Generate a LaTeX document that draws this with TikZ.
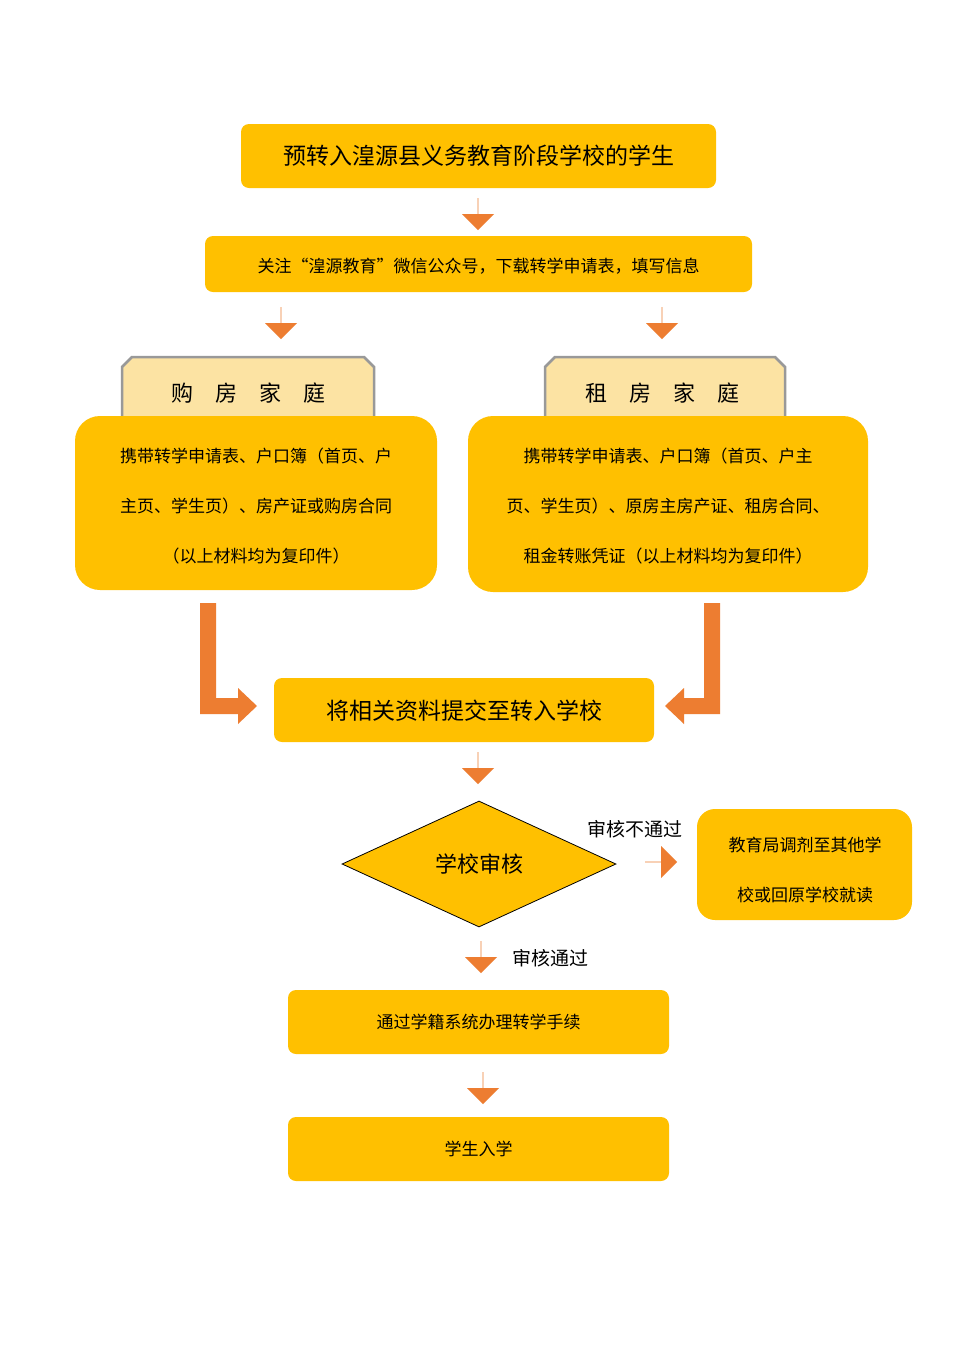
\documentclass[tikz,border=0pt]{standalone}
\usepackage{fontspec}
\setmainfont{Noto Sans CJK SC}
\usetikzlibrary{shapes.geometric,shapes.arrows}
\definecolor{gold}{HTML}{FFC000}
\definecolor{org}{HTML}{ED7D31}
\definecolor{tabf}{HTML}{FCE3A3}
\begin{document}
\begin{tikzpicture}[x=1pt,y=-1pt,
 box/.style={fill=gold,rounded corners=8pt,inner sep=0},
 big/.style={fill=gold,rounded corners=25pt},
 tab/.style={fill=tabf,draw=gray!80,line width=2.5pt},
 darr/.style={single arrow,fill=org,draw=none,shape border rotate=270,minimum width=32pt,single arrow head extend=8pt,single arrow head indent=0pt,inner sep=0,minimum height=32pt},
 rarr/.style={darr,shape border rotate=0},
 t/.style={font=\fontsize{17}{17}\selectfont},
 tl/.style={font=\fontsize{23}{23}\selectfont}]
\useasboundingbox (0,0) rectangle (960,1358);
\fill[white] (0,0) rectangle (960,1358);
% title
\fill[box] (241,124) rectangle (716,188);
\node[tl] (n1) at (478.5,156) {预转入湟源县义务教育阶段学校的学生};
\node[darr] (a1) at (478,214) {};
\fill[box] (205,236) rectangle (752,292);
\node[t] (n2) at (478.5,266) {关注“湟源教育”微信公众号，下载转学申请表，填写信息};
\node[darr] (a2) at (281,323) {};
\node[darr] (a3) at (662,323) {};
% tabs
\draw[tab] (122,420) -- (122,367) -- ++(10,-10) -- (364,357) -- (374,367) -- (374,420);
\draw[tab] (545,420) -- (545,367) -- ++(10,-10) -- (775,357) -- (785,367) -- (785,420);
\node[tl,font=\fontsize{22}{22}\selectfont] (t1) at (248,393) {购\quad 房\quad 家\quad 庭};
\node[tl,font=\fontsize{22}{22}\selectfont] (t2) at (662,393) {租\quad 房\quad 家\quad 庭};
\fill[big] (75,416) rectangle (437,590);
\fill[big] (468,416) rectangle (868,592);
\node[t] (l1) at (256,456) {携带转学申请表、户口簿（首页、户};
\node[t] (l2) at (256,506) {主页、学生页）、房产证或购房合同};
\node[t] (l3) at (256,556) {（以上材料均为复印件）};
\node[t] (r1) at (668,456) {携带转学申请表、户口簿（首页、户主};
\node[t] (r2) at (668,506) {页、学生页）、原房主房产证、租房合同、};
\node[t] (r3) at (668,556) {租金转账凭证（以上材料均为复印件）};
% L arrows
\fill[org] (200,603) -- (216,603) -- (216,698) -- (238,698) -- (238,688) -- (257,706) -- (238,724) -- (238,714) -- (200,714) -- cycle;
\fill[org] (720,603) -- (704,603) -- (704,698) -- (684,698) -- (684,688) -- (665,706) -- (684,724) -- (684,714) -- (720,714) -- cycle;
\fill[box] (274,678) rectangle (654,742);
\node[tl] (n3) at (464,711) {将相关资料提交至转入学校};
\node[darr] (a4) at (478,768) {};
\node[diamond,fill=gold,draw=black,line width=0.8pt,minimum width=274pt,minimum height=126pt,aspect=2.17,inner sep=0,font=\fontsize{22}{22}\selectfont] (d) at (479,864) {学校审核};
\node[font=\fontsize{19}{19}\selectfont] (lb1) at (635,829) {审核不通过};
\node[rarr] (a5) at (661,862) {};
\fill[big,rounded corners=18pt] (697,809) rectangle (912,920);
\node[t] (e1) at (805,845) {教育局调剂至其他学};
\node[t] (e2) at (805,895) {校或回原学校就读};
\node[darr] (a6) at (481,957) {};
\node[font=\fontsize{19}{19}\selectfont] (lb2) at (550,958) {审核通过};
\fill[box] (288,990) rectangle (669,1054);
\node[t] (n4) at (478.5,1022) {通过学籍系统办理转学手续};
\node[darr] (a7) at (483,1088) {};
\fill[box] (288,1117) rectangle (669,1181);
\node[t] (n5) at (478.5,1149) {学生入学};
\end{tikzpicture}
\end{document}
